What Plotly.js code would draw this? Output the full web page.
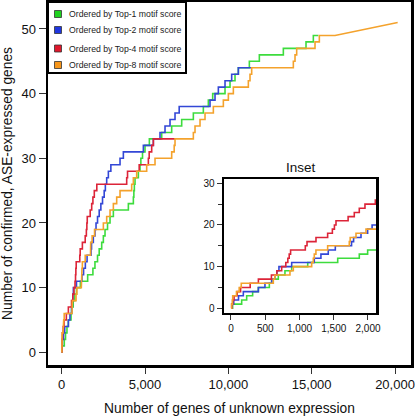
<!DOCTYPE html>
<html><head><meta charset="utf-8">
<script src="https://cdn.plot.ly/plotly-3.0.1.min.js"></script>
<style>html,body{margin:0;padding:0;background:#fff}#chart{width:415px;height:416px}</style>
</head><body><div id="chart"></div>
<script>
// ---- data ----
const seriesNames = ['Ordered by Top-1 motif score', 'Ordered by Top-2 motif score',
                     'Ordered by Top-4 motif score', 'Ordered by Top-8 motif score'];

// x (number of genes of unknown expression) at which the confirmed count reaches each value
const top1X = [0, 24, 156, 229, 316, 399, 560, 594, 691, 788, 886, 1120, 1558, 1873, 1995, 2150, 2250, 2400, 2500, 2600, 2750, 2900, 3100, 4000, 4300, 4330, 4360, 4400, 4600, 4700, 4750, 4850, 5000, 5260, 6000, 6600, 7200, 7900, 8500, 8800, 9060, 9800, 10100, 10400, 10600, 11260, 11860, 13300, 14660, 15100];
const top1Y = [0, 1, 2, 3, 4, 5, 6, 7, 8, 9, 10, 11, 12, 13, 14, 15, 16, 17, 18, 19, 20, 21, 22, 23, 24, 25, 26, 27, 28, 29, 30, 31, 32, 33, 34, 35, 36, 37, 38, 39, 40, 41, 42, 43, 44, 45, 46, 47, 48, 49];
const top1End = 15400;

const top2X = [0, 15, 40, 110, 180, 400, 496, 594, 640, 670, 700, 886, 1216, 1313, 1420, 1523, 1760, 1790, 1898, 1995, 2060, 2150, 2250, 2350, 2450, 2550, 2620, 2700, 2800, 2950, 3500, 3700, 4900, 5500, 5900, 6200, 6500, 6800, 7050, 8900, 9200, 9400, 9800, 10200, 10600];
const top2Y = [0, 1, 2, 3, 4, 5, 6, 7, 8, 9, 10, 11, 12, 13, 14, 15, 16, 17, 18, 19, 20, 21, 22, 23, 24, 25, 26, 27, 28, 29, 30, 31, 32, 33, 34, 35, 36, 37, 38, 39, 40, 41, 42, 43, 44];
const top2End = 11400;

const top4X = [0, 10, 25, 45, 90, 140, 280, 400, 590, 670, 740, 800, 830, 850, 870, 1085, 1110, 1241, 1411, 1480, 1510, 1533, 1710, 1800, 1873, 1956, 2107, 3900, 3950, 4650, 5200, 5250, 5400, 5500];
const top4Y = [0, 1, 2, 3, 4, 5, 6, 7, 8, 9, 10, 11, 12, 13, 14, 15, 16, 17, 18, 19, 20, 21, 22, 23, 24, 25, 26, 27, 28, 29, 30, 31, 32, 33];
const top4End = 6800;

const top8X = [0, 10, 20, 25, 80, 120, 150, 618, 640, 861, 910, 1178, 1202, 1216, 1240, 1411, 1727, 1740, 1825, 1971, 2500, 2700, 2900, 3100, 3300, 3500, 4200, 4300, 4500, 5100, 5600, 6600, 6750, 6800, 7900, 8000, 8300, 8600, 9100, 9700, 10000, 10300, 11200, 11300, 11400, 13900, 14000, 14100, 15200, 15460];
const top8Y = [0, 1, 2, 3, 4, 5, 6, 7, 8, 9, 10, 11, 12, 13, 14, 15, 16, 17, 18, 19, 20, 21, 22, 23, 24, 25, 26, 27, 28, 29, 30, 31, 32, 33, 34, 35, 36, 37, 38, 39, 40, 41, 42, 43, 44, 45, 46, 47, 48, 49];
const top8End = 16400;
const top8TailX = [20160];
const top8TailY = [51];

const mainXTicks = [0, 5000, 10000, 15000, 20000];
const mainYTicks = [0, 10, 20, 30, 40, 50];
const insetXTicks = [0, 500, 1000, 1500, 2000];
const insetYTicks = [0, 10, 20, 30];

// ---- styles ----
const lineColors = ['#3ddc3d', '#3347d6', '#dc2438', '#f4a22c'];
const boxColors  = ['#1fd21f', '#1f36e0', '#e0182c', '#f7961a'];
const FONT = 'Liberation Sans, Arial, Helvetica, sans-serif';

function stairs(xs, ys, endX, tailX, tailY) {
  const x = [xs[0]], y = [ys[0]];
  for (let i = 1; i < xs.length; i++) {
    x.push(xs[i]); y.push(ys[i - 1]);
    x.push(xs[i]); y.push(ys[i]);
  }
  x.push(endX); y.push(ys[ys.length - 1]);
  if (tailX) for (let i = 0; i < tailX.length; i++) { x.push(tailX[i]); y.push(tailY[i]); }
  return {x, y};
}

const series = [
  stairs(top1X, top1Y, top1End),
  stairs(top2X, top2Y, top2End),
  stairs(top4X, top4Y, top4End),
  stairs(top8X, top8Y, top8End, top8TailX, top8TailY)
];

const traces = [];
series.forEach((s, i) => {
  traces.push({x: s.x, y: s.y, xaxis: 'x', yaxis: 'y', type: 'scatter', mode: 'lines',
    name: seriesNames[i], showlegend: false, line: {color: lineColors[i], width: 1.6}});
});
series.forEach((s, i) => {
  traces.push({x: s.x, y: s.y, xaxis: 'x2', yaxis: 'y2', type: 'scatter', mode: 'lines',
    name: seriesNames[i], showlegend: false, line: {color: lineColors[i], width: 1.6}});
});

// pixel helpers for the plot area (l=48, t=2, w=363, h=363)
const PL = 48, PT = 2, PW = 363, PH = 363;
const px = v => (v - PL) / PW;
const py = v => (PT + PH - v) / PH;

const shapes = [{type: 'rect', xref: 'paper', yref: 'paper', x0: px(48), x1: px(186), y0: py(73), y1: py(2),
  fillcolor: '#fff', line: {color: '#000', width: 2}, layer: 'above'}];
const annotations = [];
const itemY = [14, 30, 48.5, 65];
seriesNames.forEach((n, i) => {
  shapes.push({type: 'rect', xref: 'paper', yref: 'paper', x0: px(54.5), x1: px(61.5),
    y0: py(itemY[i] + 3.5), y1: py(itemY[i] - 3.5), fillcolor: boxColors[i],
    line: {color: '#333', width: 0.8}, layer: 'above'});
  annotations.push({xref: 'paper', yref: 'paper', x: px(66.5), y: py(itemY[i]), xanchor: 'left', yanchor: 'middle',
    text: n, showarrow: false, font: {family: FONT, size: 8.7, color: '#222'}});
});
annotations.push({xref: 'paper', yref: 'paper', x: px(301), y: py(167), xanchor: 'center', yanchor: 'middle',
  text: 'Inset', showarrow: false, font: {family: FONT, size: 13.5, color: '#111'}});

const axBase = {showgrid: false, zeroline: false, showline: true, mirror: true, linecolor: '#000',
  ticks: 'outside', tickcolor: '#333', tickwidth: 1, tickformat: ',d'};

const layout = {
  width: 415, height: 416,
  margin: {l: PL, r: 4, t: PT, b: 51},
  paper_bgcolor: '#fff', plot_bgcolor: '#fff',
  font: {family: FONT, color: '#111'},
  showlegend: false,
  xaxis: Object.assign({}, axBase, {domain: [0, 1], anchor: 'y', range: [-822, 20960],
    tickvals: mainXTicks, ticklen: 6, linewidth: 2.5, tickfont: {size: 13, color: '#111'},
    title: {text: 'Number of genes of unknown expression', font: {size: 13.8, color: '#111'}, standoff: 12}}),
  yaxis: Object.assign({}, axBase, {domain: [0, 1], anchor: 'x', range: [-1.96, 54.17],
    tickvals: mainYTicks, ticklen: 7, linewidth: 2.5, tickfont: {size: 13, color: '#111'},
    title: {text: 'Number of confirmed, ASE-expressed genes', font: {size: 13.8, color: '#111'}, standoff: 8}}),
  xaxis2: Object.assign({}, axBase, {domain: [px(224), px(376)], anchor: 'y2', range: [-102, 2117],
    tickvals: insetXTicks, ticklen: 5, linewidth: 2.5, tickfont: {size: 10, color: '#111'}}),
  yaxis2: Object.assign({}, axBase, {domain: [py(312.7), py(179.3)], anchor: 'x2', range: [-1.06, 30.96],
    tickvals: insetYTicks, ticklen: 5, linewidth: 2.5, tickfont: {size: 10, color: '#111'},
    minor: {tickvals: [5, 15, 25], ticks: 'outside', ticklen: 4, tickcolor: '#333'}}),
  shapes: shapes,
  annotations: annotations
};

Plotly.newPlot('chart', traces, layout, {staticPlot: true, displayModeBar: false});
</script>
</body></html>
